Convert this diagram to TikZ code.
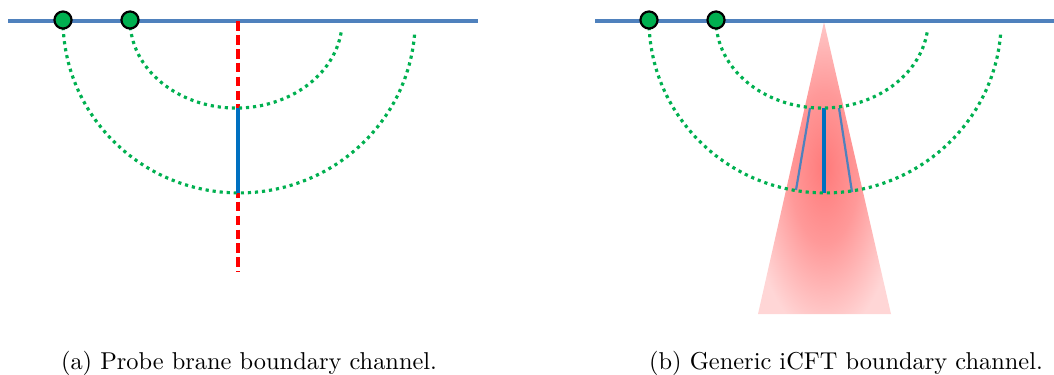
\documentclass[tikz,border=0pt]{standalone}
\usetikzlibrary{positioning}
\definecolor{lineblue}{RGB}{79,129,189}
\definecolor{dotgreen}{RGB}{0,176,80}
\definecolor{segblue}{RGB}{0,112,192}
\pgfdeclareradialshading{conefade}{\pgfpoint{0bp}{0bp}}{color(0bp)=(red!52); color(13bp)=(red!40); color(29bp)=(red!16); color(50bp)=(red!16)}
\begin{document}
\begin{tikzpicture}[
        x=0.41pt, y=-0.41pt,
        bdry/.style={lineblue, line width=1.8pt},
        insertion/.style={circle, draw=black, fill=dotgreen, line width=0.9pt, minimum size=7pt, inner sep=0pt},
        geod/.style={dotgreen, line width=1.3pt, dash pattern=on 1.3pt off 1.6pt},
        brane/.style={red, line width=1.5pt, dash pattern=on 4pt off 1.7pt},
        seg/.style={segblue, line width=1.4pt},
        side/.style={lineblue, line width=0.9pt},
        caption/.style={anchor=base, font=\normalsize}
    ]
        \useasboundingbox (0,0) rectangle (1054,374);

        % (a) probe brane
        \coordinate (la) at (8,21);
        \coordinate (ra) at (478,21);
        \coordinate (x1a) at (63,20);
        \coordinate (x2a) at (130,20);
        \coordinate (topa) at (238,21);
        \coordinate (enda) at (238,272);
        \coordinate (ina) at (238,108);
        \coordinate (outa) at (238,193);

        \draw[bdry] (la) -- (ra);
        \draw[brane] (topa) -- (enda);
        \draw[geod] (x2a) arc[start angle=180, end angle=352, x radius=43.5pt, y radius=36.1pt];
        \draw[geod] (x1a) arc[start angle=180, end angle=356, x radius=72.2pt, y radius=70.9pt];
        \draw[seg] (ina) -- (outa);
        \node[insertion] (p1a) at (x1a) {};
        \node[insertion] (p2a) at (x2a) {};

        % (b) generic iCFT
        \coordinate (lb) at (595,21);
        \coordinate (rb) at (1054,21);
        \coordinate (x1b) at (649,20);
        \coordinate (x2b) at (716,20);
        \coordinate (apex) at (824,22);
        \coordinate (baseL) at (758,314);
        \coordinate (baseR) at (891,314);
        \coordinate (inb) at (824,108);
        \coordinate (outb) at (824,193);

        \shade[shading=conefade] (apex) -- (baseR) -- (baseL) -- cycle;
        \draw[bdry] (lb) -- (rb);
        \draw[side] (810,108) -- (796,190);
        \draw[side] (839,108) -- (852,192);
        \draw[segblue, line width=2pt] (inb) -- (outb);
        \draw[geod] (x2b) arc[start angle=180, end angle=352, x radius=43.5pt, y radius=36.1pt];
        \draw[geod] (x1b) arc[start angle=180, end angle=356, x radius=72.2pt, y radius=70.9pt];
        \node[insertion] (p1b) at (x1b) {};
        \node[insertion] (p2b) at (x2b) {};

        \node[caption] (capa) at (249,369) {(a) Probe brane boundary channel.};
        \node[caption] (capb) at (846,369) {(b) Generic iCFT boundary channel.};
    \end{tikzpicture}
\end{document}
